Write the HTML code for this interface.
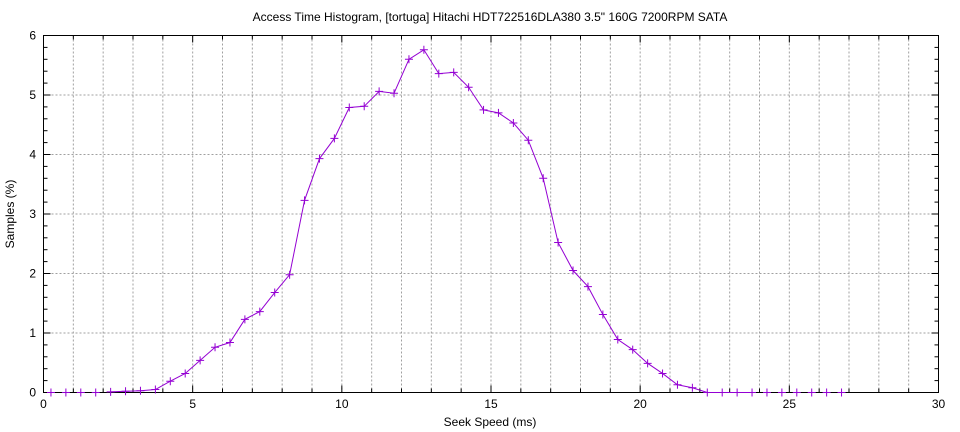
<!DOCTYPE html>
<html><head><meta charset="utf-8"><style>
html,body{margin:0;padding:0;background:#fff;}
svg{display:block;font-family:"Liberation Sans","DejaVu Sans",sans-serif;}
</style></head><body>
<svg id="s" width="960" height="432" viewBox="0 0 960 432" xmlns="http://www.w3.org/2000/svg">
<rect width="960" height="432" fill="#fff"/>
<text x="490" y="21" font-size="12" text-anchor="middle" fill="#000">Access Time Histogram, [tortuga] Hitachi HDT722516DLA380 3.5" 160G 7200RPM SATA</text>
<text x="490" y="426" font-size="12" text-anchor="middle">Seek Speed (ms)</text>
<text transform="translate(14,214) rotate(-90)" font-size="12" text-anchor="middle">Samples (%)</text>
<g id="g"></g>
</svg>
<script>
var L=43.5,R=938.5,T=35.5,B=392.5;
function X(v){return L+(R-L)*v/30}
function Y(v){return B-(B-T)*v/6}
var h='';
for(var i=1;i<30;i++){var x=X(i);h+='<line x1="'+x+'" y1="'+T+'" x2="'+x+'" y2="'+B+'" stroke="#a0a0a0" stroke-dasharray="2,2"/>';}
for(var j=1;j<6;j++){var y=Y(j);h+='<line x1="'+L+'" y1="'+y+'" x2="'+R+'" y2="'+y+'" stroke="#a0a0a0" stroke-dasharray="2,2"/>';}
for(var i=0;i<=30;i++){var x=X(i),len=i%5?4:7;h+='<line x1="'+x+'" y1="'+B+'" x2="'+x+'" y2="'+(B-len)+'" stroke="#000"/><line x1="'+x+'" y1="'+T+'" x2="'+x+'" y2="'+(T+len)+'" stroke="#000"/>';}
for(var k=0;k<=30;k++){var v=k*0.2,y=Y(v),len=k%5?4:7;h+='<line x1="'+L+'" y1="'+y+'" x2="'+(L+len)+'" y2="'+y+'" stroke="#000"/><line x1="'+R+'" y1="'+y+'" x2="'+(R-len)+'" y2="'+y+'" stroke="#000"/>';}
for(var i=0;i<=30;i+=5)h+='<text x="'+X(i)+'" y="408" font-size="12" text-anchor="middle">'+i+'</text>';
for(var j=0;j<=6;j++)h+='<text x="36" y="'+(Y(j)+4)+'" font-size="12" text-anchor="end">'+j+'</text>';
h+='<rect x="'+L+'" y="'+T+'" width="'+(R-L)+'" height="'+(B-T)+'" fill="none" stroke="#000"/>';
var d=[0,0,0,0,0.01,0.02,0.03,0.05,0.19,0.32,0.54,0.76,0.84,1.23,1.36,1.68,1.98,3.23,3.93,4.27,4.79,4.81,5.06,5.03,5.6,5.76,5.36,5.38,5.13,4.75,4.7,4.53,4.24,3.6,2.52,2.05,1.78,1.31,0.89,0.72,0.49,0.32,0.13,0.08,0,0,0,0,0,0,0,0,0,0];
var pts=[];for(var i=0;i<d.length;i++)pts.push([X(0.25+0.5*i),Y(d[i])]);
h+='<polyline fill="none" stroke="#9400d3" stroke-width="1" points="'+pts.slice(4,48).map(function(p){return p[0]+','+p[1]}).join(' ')+'"/>';
pts.forEach(function(p){h+='<path d="M'+(p[0]-4)+' '+p[1]+'h8M'+p[0]+' '+(p[1]-4)+'v8" stroke="#9400d3" stroke-width="1"/>';});
document.getElementById('g').innerHTML=h;
</script>
</body></html>
